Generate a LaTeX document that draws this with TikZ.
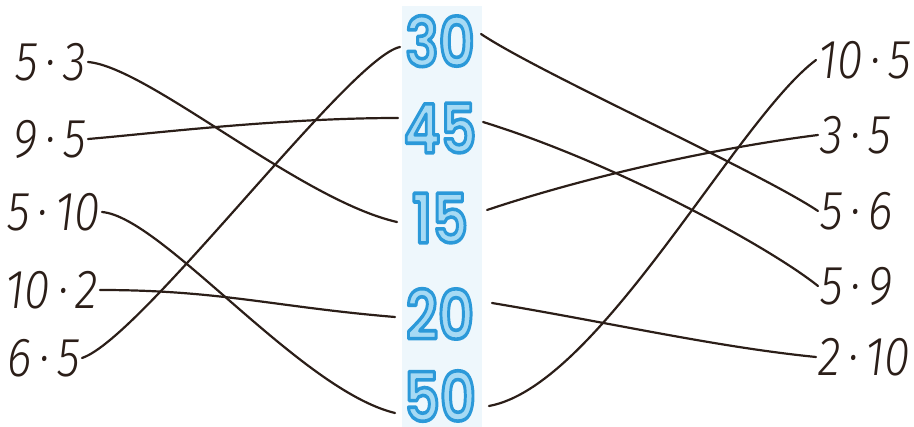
\documentclass[tikz,border=0pt]{standalone}
\usepackage{fontspec}
\setmainfont{Fira Sans}[UprightFont=* Light, ItalicFont=* Light Italic]
\newfontfamily\numfont{Poppins}[UprightFont=* SemiBold]
\definecolor{ink}{HTML}{2B1E18}
\definecolor{numfill}{HTML}{A6DAF4}
\definecolor{strip}{HTML}{EEF7FC}
\tikzset{
  lbl/.style={inner sep=2pt, text=ink, font=\fontsize{55}{55}\selectfont\itshape},
  conn/.style={draw=ink, line width=2.2pt, line cap=round},
  nf/.style={inner sep=0pt, text=numfill, text depth=0pt, font=\fontsize{68}{68}\selectfont\numfont},
}
\newcommand\lab[1]{\scalebox{0.85}[1]{#1}}
\newcommand\outl[1]{\special{pdf:code q 0.17 0.60 0.85 RG 3.6 w 1 j 2 Tr}#1\special{pdf:code Q}}
\newcommand\bnum[3]{\node[nf] (#1) at (#2) {\scalebox{0.82}[1]{\outl{#3}}};}
\begin{document}
\begin{tikzpicture}[x=1pt,y=-1pt]
\useasboundingbox (0,0) rectangle (914,427);
\fill[strip] (402,6) rectangle (482,427);
% middle numbers
\bnum{m30}{440,41}{30}
\bnum{m45}{440,128}{45}
\bnum{m15}{440,218}{15}
\bnum{m20}{440,314}{20}
\bnum{m50}{440,396}{50}
% connection points at the numbers
\coordinate (m30w) at (400,47);  \coordinate (m30e) at (481,34);
\coordinate (m45w) at (398,118); \coordinate (m45e) at (483,122);
\coordinate (m15w) at (397,222); \coordinate (m15e) at (487,210);
\coordinate (m20w) at (395,317); \coordinate (m20e) at (492,303);
\coordinate (m50w) at (395,413); \coordinate (m50e) at (489,406);
% left labels
\node[lbl,anchor=east] (l1) at (88,62) {\lab{5\,·\,3}};
\node[lbl,anchor=east] (l2) at (88,139) {\lab{9\,·\,5}};
\node[lbl,anchor=east] (l3) at (102,212) {\lab{5\,·\,10}};
\node[lbl,anchor=east] (l4) at (100,290) {\lab{10\,·\,2}};
\node[lbl,anchor=east] (l5) at (82,358) {\lab{6\,·\,5}};
% right labels
\node[lbl,anchor=west] (r1) at (816,60) {\lab{10\,·\,5}};
\node[lbl,anchor=west] (r2) at (818,135) {\lab{3\,·\,5}};
\node[lbl,anchor=west] (r3) at (818,211) {\lab{5\,·\,6}};
\node[lbl,anchor=west] (r4) at (818,286) {\lab{5\,·\,9}};
\node[lbl,anchor=west] (r5) at (816,357) {\lab{2\,·\,10}};
% left connectors
\draw[conn] (l1.east) .. controls +(60,5) and (300,200) .. (m15w);
\draw[conn] (l2.east) .. controls +(60,-5) and +(-120,0) .. (m45w);
\draw[conn] (l3.east) .. controls +(60,5) and (300,390) .. (m50w);
\draw[conn] (l4.east) .. controls +(120,0) and +(-120,-10) .. (m20w);
\draw[conn] (l5.east) .. controls +(60,-20) and +(-50,10) .. (m30w);
% right connectors
\draw[conn] (m30e) .. controls +(60,40) and +(-60,-40) .. (r3.west);
\draw[conn] (m45e) .. controls +(130,40) and +(-50,-40) .. (r4.west);
\draw[conn] (m15e) .. controls +(120,-40) and +(-80,10) .. (r2.west);
\draw[conn] (m20e) .. controls +(120,20) and +(-100,-10) .. (r5.west);
\draw[conn] (m50e) .. controls +(110,-20) and +(-80,60) .. (r1.west);
\end{tikzpicture}
\end{document}
